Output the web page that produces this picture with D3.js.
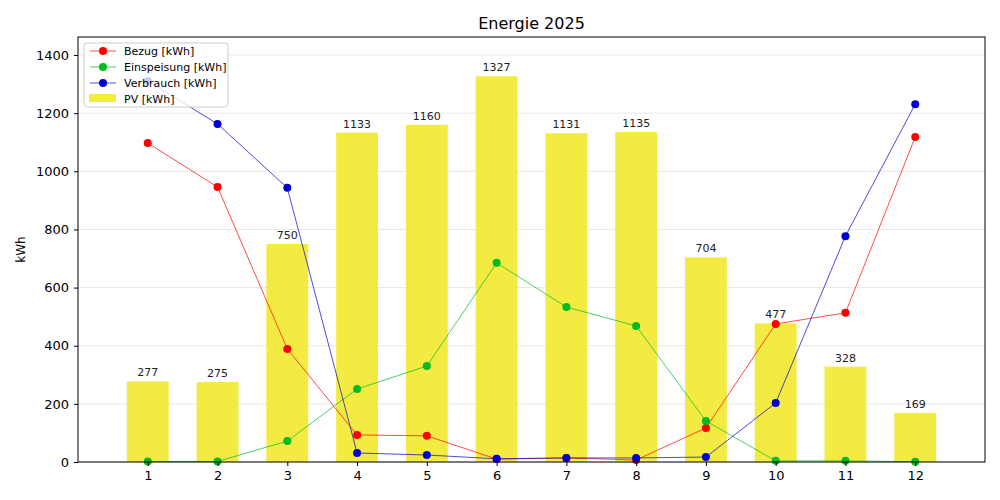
<!DOCTYPE html>
<html><head><meta charset="utf-8">
<script src="https://cdn.jsdelivr.net/npm/d3@7"></script>
<style>body{margin:0;background:#fff;font-family:"DejaVu Sans",sans-serif}</style>
</head><body><svg id="c" width="1000" height="500"></svg>
<script>
const months = [1,2,3,4,5,6,7,8,9,10,11,12];
const pv = [277,275,750,1133,1160,1327,1131,1135,704,477,328,169];
const bezug = [1097,946,389,93,90,10,14,7,117,475,513,1118];
const einspeisung = [2,2,72,251,330,685,533,468,141,4,4,1];
const verbrauch = [1311,1163,943,31,24,11,14,14,17,203,777,1231];
const yTicks = [0,200,400,600,800,1000,1200,1400];

const svg = d3.select("#c");
const L=78,R=985,T=37,B=462;
const x = d3.scaleLinear().domain([0,13]).range([L,R]);
const y = d3.scaleLinear().domain([0,1462]).range([B,T]);

// grid
svg.append("g").selectAll("line").data(yTicks).join("line")
  .attr("x1",L).attr("x2",R).attr("y1",d=>y(d)).attr("y2",d=>y(d))
  .attr("stroke","#e8e8e8").attr("stroke-width",1);

const bw = x(0.6)-x(0);
svg.append("g").selectAll("rect").data(months).join("rect")
  .attr("x",(d)=>x(d)-bw/2).attr("width",bw)
  .attr("y",(d,i)=>y(pv[i])).attr("height",(d,i)=>B-y(pv[i]))
  .attr("fill","#f3eb42");
svg.append("g").selectAll("text").data(months).join("text")
  .attr("x",d=>x(d)).attr("y",(d,i)=>y(pv[i])-5)
  .attr("text-anchor","middle").attr("font-size",11).attr("fill","#222")
  .text((d,i)=>pv[i]);

const series=[
  {name:"Bezug [kWh]",data:bezug,color:"#ff0000"},
  {name:"Einspeisung [kWh]",data:einspeisung,color:"#00bb22"},
  {name:"Verbrauch [kWh]",data:verbrauch,color:"#0000cc"}
];
series.forEach(s=>{
  const line=d3.line().x((d,i)=>x(months[i])).y(d=>y(d));
  svg.append("path").attr("d",line(s.data)).attr("fill","none")
    .attr("stroke",s.color).attr("stroke-width",0.7);
  svg.append("g").selectAll("circle").data(s.data).join("circle")
    .attr("cx",(d,i)=>x(months[i])).attr("cy",d=>y(d)).attr("r",4)
    .attr("fill",s.color);
});

// axes
const xa = svg.append("g").attr("transform",`translate(0,${B})`)
  .call(d3.axisBottom(x).tickValues(months).tickFormat(d3.format("d")).tickSize(4).tickPadding(5));
const ya = svg.append("g").attr("transform",`translate(${L},0)`)
  .call(d3.axisLeft(y).tickValues(yTicks).tickFormat(d3.format("d")).tickSize(4).tickPadding(5));
[xa,ya].forEach(a=>{a.select(".domain").remove();a.selectAll("text").attr("font-size",13).attr("font-family","DejaVu Sans").attr("fill","#000");a.selectAll("line").attr("stroke","#000");});
svg.append("rect").attr("x",L).attr("y",T).attr("width",R-L).attr("height",B-T)
  .attr("fill","none").attr("stroke","#000").attr("stroke-width",1);

svg.append("text").attr("x",(L+R)/2).attr("y",29).attr("text-anchor","middle")
  .attr("font-size",16).text("Energie 2025");
svg.append("text").attr("transform",`translate(25,${(T+B)/2}) rotate(-90)`)
  .attr("text-anchor","middle").attr("font-size",12).text("kWh");

// legend
const lg = svg.append("g").attr("transform","translate(84,43)");
lg.append("rect").attr("width",144).attr("height",64).attr("rx",3)
  .attr("fill","#fff").attr("fill-opacity",0.8).attr("stroke","#ccc");
series.forEach((s,i)=>{
  const yy=8+i*16;
  lg.append("line").attr("x1",6).attr("x2",32).attr("y1",yy).attr("y2",yy).attr("stroke",s.color).attr("stroke-width",0.7);
  lg.append("circle").attr("cx",19).attr("cy",yy).attr("r",4).attr("fill",s.color);
  lg.append("text").attr("x",40).attr("y",yy+4).attr("font-size",11).text(s.name);
});
lg.append("rect").attr("x",5).attr("y",51).attr("width",27).attr("height",8).attr("fill","#f3eb42");
lg.append("text").attr("x",40).attr("y",60).attr("font-size",11).text("PV [kWh]");
</script></body></html>
